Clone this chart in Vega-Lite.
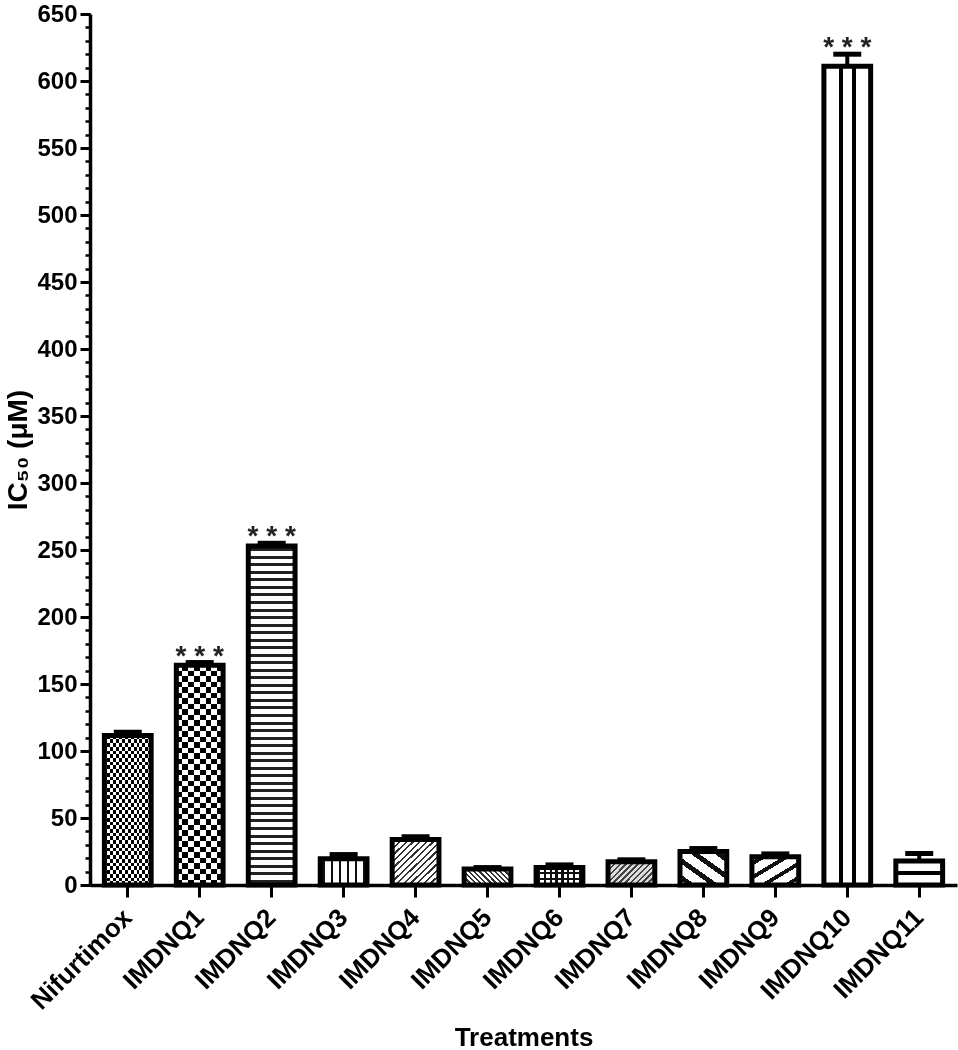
{
"$schema":"https://vega.github.io/schema/vega-lite/v6.json",
"width":867,"height":871,
"autosize":{"type":"none"},
"padding":{"left":90,"top":14,"right":1,"bottom":165},
"background":"white",
"config":{"view":{"stroke":null},"font":"Liberation Sans","axis":{"labelFont":"Liberation Sans","titleFont":"Liberation Sans"}},
"data":{"values":[
{"treatment":"Nifurtimox","value":111.5,"upper":114,"star":""},
{"treatment":"IMDNQ1","value":164,"upper":166,"star":"* * *"},
{"treatment":"IMDNQ2","value":253,"upper":255,"star":"* * *"},
{"treatment":"IMDNQ3","value":19.5,"upper":22.7,"star":""},
{"treatment":"IMDNQ4","value":34,"upper":36,"star":""},
{"treatment":"IMDNQ5","value":12,"upper":13,"star":""},
{"treatment":"IMDNQ6","value":13,"upper":15,"star":""},
{"treatment":"IMDNQ7","value":17.3,"upper":18.8,"star":""},
{"treatment":"IMDNQ8","value":25,"upper":27.2,"star":""},
{"treatment":"IMDNQ9","value":21,"upper":23.2,"star":""},
{"treatment":"IMDNQ10","value":611,"upper":620,"star":"* * *"},
{"treatment":"IMDNQ11","value":18,"upper":23.5,"star":""}
]},
"encoding":{"x":{"field":"treatment","type":"nominal",
  "scale":{"domain":["Nifurtimox","IMDNQ1","IMDNQ2","IMDNQ3","IMDNQ4","IMDNQ5","IMDNQ6","IMDNQ7","IMDNQ8","IMDNQ9","IMDNQ10","IMDNQ11"],"paddingInner":0.35,"paddingOuter":0.2},
  "axis":{"title":"Treatments","titleFontSize":26,"titleFontWeight":"bold","titleColor":"black","titleY":152,"titleBaseline":"middle",
    "labelAngle":-45,"labelAlign":"right","labelBaseline":"middle","labelFontSize":26,"labelFontWeight":"bold","labelColor":"black","labelPadding":16,"labelOverlap":false,"labelLimit":0,
    "tickSize":12,"tickWidth":3,"tickColor":"black","domainColor":"black","domainWidth":3.5,"grid":false}},
  "y":{"field":"value","type":"quantitative","scale":{"domain":[0,650],"nice":false},"axis":null}},
"layer":[
  {"transform":[{"filter":"datum.treatment==='Nifurtimox' || datum.treatment==='IMDNQ1'"}],
   "mark":{"type":"bar","fill":{"gradient":"linear","x1":0,"y1":0,"x2":0,"y2":1,"stops":[{"offset":0,"color":"#000"},{"offset":0.025,"color":"#000"},{"offset":0.025,"color":"#fff"},{"offset":0.05,"color":"#fff"},{"offset":0.05,"color":"#000"},{"offset":0.075,"color":"#000"},{"offset":0.075,"color":"#fff"},{"offset":0.1,"color":"#fff"},{"offset":0.1,"color":"#000"},{"offset":0.125,"color":"#000"},{"offset":0.125,"color":"#fff"},{"offset":0.15,"color":"#fff"},{"offset":0.15,"color":"#000"},{"offset":0.175,"color":"#000"},{"offset":0.175,"color":"#fff"},{"offset":0.2,"color":"#fff"},{"offset":0.2,"color":"#000"},{"offset":0.225,"color":"#000"},{"offset":0.225,"color":"#fff"},{"offset":0.25,"color":"#fff"},{"offset":0.25,"color":"#000"},{"offset":0.275,"color":"#000"},{"offset":0.275,"color":"#fff"},{"offset":0.3,"color":"#fff"},{"offset":0.3,"color":"#000"},{"offset":0.325,"color":"#000"},{"offset":0.325,"color":"#fff"},{"offset":0.35,"color":"#fff"},{"offset":0.35,"color":"#000"},{"offset":0.375,"color":"#000"},{"offset":0.375,"color":"#fff"},{"offset":0.4,"color":"#fff"},{"offset":0.4,"color":"#000"},{"offset":0.425,"color":"#000"},{"offset":0.425,"color":"#fff"},{"offset":0.45,"color":"#fff"},{"offset":0.45,"color":"#000"},{"offset":0.475,"color":"#000"},{"offset":0.475,"color":"#fff"},{"offset":0.5,"color":"#fff"},{"offset":0.5,"color":"#000"},{"offset":0.525,"color":"#000"},{"offset":0.525,"color":"#fff"},{"offset":0.55,"color":"#fff"},{"offset":0.55,"color":"#000"},{"offset":0.575,"color":"#000"},{"offset":0.575,"color":"#fff"},{"offset":0.6,"color":"#fff"},{"offset":0.6,"color":"#000"},{"offset":0.625,"color":"#000"},{"offset":0.625,"color":"#fff"},{"offset":0.65,"color":"#fff"},{"offset":0.65,"color":"#000"},{"offset":0.675,"color":"#000"},{"offset":0.675,"color":"#fff"},{"offset":0.7,"color":"#fff"},{"offset":0.7,"color":"#000"},{"offset":0.725,"color":"#000"},{"offset":0.725,"color":"#fff"},{"offset":0.75,"color":"#fff"},{"offset":0.75,"color":"#000"},{"offset":0.775,"color":"#000"},{"offset":0.775,"color":"#fff"},{"offset":0.8,"color":"#fff"},{"offset":0.8,"color":"#000"},{"offset":0.825,"color":"#000"},{"offset":0.825,"color":"#fff"},{"offset":0.85,"color":"#fff"},{"offset":0.85,"color":"#000"},{"offset":0.875,"color":"#000"},{"offset":0.875,"color":"#fff"},{"offset":0.9,"color":"#fff"},{"offset":0.9,"color":"#000"},{"offset":0.925,"color":"#000"},{"offset":0.925,"color":"#fff"},{"offset":0.95,"color":"#fff"},{"offset":0.95,"color":"#000"},{"offset":0.975,"color":"#000"},{"offset":0.975,"color":"#fff"},{"offset":1,"color":"#fff"}]}}},
  {"transform":[{"filter":"datum.treatment==='Nifurtimox'"}],
   "mark":{"type":"bar","blend":"difference","fill":{"gradient":"linear","x1":0,"y1":0,"x2":1,"y2":0,"stops":[{"offset":0,"color":"#fff"},{"offset":0.0625,"color":"#fff"},{"offset":0.0625,"color":"rgba(255,255,255,0)"},{"offset":0.125,"color":"rgba(255,255,255,0)"},{"offset":0.125,"color":"#fff"},{"offset":0.1875,"color":"#fff"},{"offset":0.1875,"color":"rgba(255,255,255,0)"},{"offset":0.25,"color":"rgba(255,255,255,0)"},{"offset":0.25,"color":"#fff"},{"offset":0.3125,"color":"#fff"},{"offset":0.3125,"color":"rgba(255,255,255,0)"},{"offset":0.375,"color":"rgba(255,255,255,0)"},{"offset":0.375,"color":"#fff"},{"offset":0.4375,"color":"#fff"},{"offset":0.4375,"color":"rgba(255,255,255,0)"},{"offset":0.5,"color":"rgba(255,255,255,0)"},{"offset":0.5,"color":"#fff"},{"offset":0.5625,"color":"#fff"},{"offset":0.5625,"color":"rgba(255,255,255,0)"},{"offset":0.625,"color":"rgba(255,255,255,0)"},{"offset":0.625,"color":"#fff"},{"offset":0.6875,"color":"#fff"},{"offset":0.6875,"color":"rgba(255,255,255,0)"},{"offset":0.75,"color":"rgba(255,255,255,0)"},{"offset":0.75,"color":"#fff"},{"offset":0.8125,"color":"#fff"},{"offset":0.8125,"color":"rgba(255,255,255,0)"},{"offset":0.875,"color":"rgba(255,255,255,0)"},{"offset":0.875,"color":"#fff"},{"offset":0.9375,"color":"#fff"},{"offset":0.9375,"color":"rgba(255,255,255,0)"},{"offset":1,"color":"rgba(255,255,255,0)"}]}}},
  {"transform":[{"filter":"datum.treatment==='IMDNQ1'"}],
   "mark":{"type":"bar","blend":"difference","fill":{"gradient":"linear","x1":0,"y1":0,"x2":1,"y2":0,"stops":[{"offset":0,"color":"#fff"},{"offset":0.125,"color":"#fff"},{"offset":0.125,"color":"rgba(255,255,255,0)"},{"offset":0.25,"color":"rgba(255,255,255,0)"},{"offset":0.25,"color":"#fff"},{"offset":0.375,"color":"#fff"},{"offset":0.375,"color":"rgba(255,255,255,0)"},{"offset":0.5,"color":"rgba(255,255,255,0)"},{"offset":0.5,"color":"#fff"},{"offset":0.625,"color":"#fff"},{"offset":0.625,"color":"rgba(255,255,255,0)"},{"offset":0.75,"color":"rgba(255,255,255,0)"},{"offset":0.75,"color":"#fff"},{"offset":0.875,"color":"#fff"},{"offset":0.875,"color":"rgba(255,255,255,0)"},{"offset":1,"color":"rgba(255,255,255,0)"}]}}},
  {"transform":[{"filter":"datum.treatment==='IMDNQ2'"}],
   "mark":{"type":"bar","fill":{"gradient":"linear","x1":0,"y1":0,"x2":0,"y2":1,"stops":[
{"offset":0.0067,"color":"#fff"},{"offset":0.0067,"color":"#222"},{"offset":0.0155,"color":"#222"},{"offset":0.0155,"color":"#fff"},
{"offset":0.0289,"color":"#fff"},{"offset":0.0289,"color":"#222"},{"offset":0.0377,"color":"#222"},{"offset":0.0377,"color":"#fff"},
{"offset":0.0512,"color":"#fff"},{"offset":0.0512,"color":"#222"},{"offset":0.06,"color":"#222"},{"offset":0.06,"color":"#fff"},
{"offset":0.0734,"color":"#fff"},{"offset":0.0734,"color":"#222"},{"offset":0.0822,"color":"#222"},{"offset":0.0822,"color":"#fff"},
{"offset":0.0956,"color":"#fff"},{"offset":0.0956,"color":"#222"},{"offset":0.1044,"color":"#222"},{"offset":0.1044,"color":"#fff"},
{"offset":0.1178,"color":"#fff"},{"offset":0.1178,"color":"#222"},{"offset":0.1266,"color":"#222"},{"offset":0.1266,"color":"#fff"},
{"offset":0.14,"color":"#fff"},{"offset":0.14,"color":"#222"},{"offset":0.1488,"color":"#222"},{"offset":0.1488,"color":"#fff"},
{"offset":0.1623,"color":"#fff"},{"offset":0.1623,"color":"#222"},{"offset":0.1711,"color":"#222"},{"offset":0.1711,"color":"#fff"},
{"offset":0.1845,"color":"#fff"},{"offset":0.1845,"color":"#222"},{"offset":0.1933,"color":"#222"},{"offset":0.1933,"color":"#fff"},
{"offset":0.2067,"color":"#fff"},{"offset":0.2067,"color":"#222"},{"offset":0.2155,"color":"#222"},{"offset":0.2155,"color":"#fff"},
{"offset":0.2289,"color":"#fff"},{"offset":0.2289,"color":"#222"},{"offset":0.2377,"color":"#222"},{"offset":0.2377,"color":"#fff"},
{"offset":0.2512,"color":"#fff"},{"offset":0.2512,"color":"#222"},{"offset":0.26,"color":"#222"},{"offset":0.26,"color":"#fff"},
{"offset":0.2734,"color":"#fff"},{"offset":0.2734,"color":"#222"},{"offset":0.2822,"color":"#222"},{"offset":0.2822,"color":"#fff"},
{"offset":0.2956,"color":"#fff"},{"offset":0.2956,"color":"#222"},{"offset":0.3044,"color":"#222"},{"offset":0.3044,"color":"#fff"},
{"offset":0.3178,"color":"#fff"},{"offset":0.3178,"color":"#222"},{"offset":0.3266,"color":"#222"},{"offset":0.3266,"color":"#fff"},
{"offset":0.34,"color":"#fff"},{"offset":0.34,"color":"#222"},{"offset":0.3488,"color":"#222"},{"offset":0.3488,"color":"#fff"},
{"offset":0.3623,"color":"#fff"},{"offset":0.3623,"color":"#222"},{"offset":0.3711,"color":"#222"},{"offset":0.3711,"color":"#fff"},
{"offset":0.3845,"color":"#fff"},{"offset":0.3845,"color":"#222"},{"offset":0.3933,"color":"#222"},{"offset":0.3933,"color":"#fff"},
{"offset":0.4067,"color":"#fff"},{"offset":0.4067,"color":"#222"},{"offset":0.4155,"color":"#222"},{"offset":0.4155,"color":"#fff"},
{"offset":0.4289,"color":"#fff"},{"offset":0.4289,"color":"#222"},{"offset":0.4377,"color":"#222"},{"offset":0.4377,"color":"#fff"},
{"offset":0.4512,"color":"#fff"},{"offset":0.4512,"color":"#222"},{"offset":0.46,"color":"#222"},{"offset":0.46,"color":"#fff"},
{"offset":0.4734,"color":"#fff"},{"offset":0.4734,"color":"#222"},{"offset":0.4822,"color":"#222"},{"offset":0.4822,"color":"#fff"},
{"offset":0.4956,"color":"#fff"},{"offset":0.4956,"color":"#222"},{"offset":0.5044,"color":"#222"},{"offset":0.5044,"color":"#fff"},
{"offset":0.5178,"color":"#fff"},{"offset":0.5178,"color":"#222"},{"offset":0.5266,"color":"#222"},{"offset":0.5266,"color":"#fff"},
{"offset":0.54,"color":"#fff"},{"offset":0.54,"color":"#222"},{"offset":0.5488,"color":"#222"},{"offset":0.5488,"color":"#fff"},
{"offset":0.5623,"color":"#fff"},{"offset":0.5623,"color":"#222"},{"offset":0.5711,"color":"#222"},{"offset":0.5711,"color":"#fff"},
{"offset":0.5845,"color":"#fff"},{"offset":0.5845,"color":"#222"},{"offset":0.5933,"color":"#222"},{"offset":0.5933,"color":"#fff"},
{"offset":0.6067,"color":"#fff"},{"offset":0.6067,"color":"#222"},{"offset":0.6155,"color":"#222"},{"offset":0.6155,"color":"#fff"},
{"offset":0.6289,"color":"#fff"},{"offset":0.6289,"color":"#222"},{"offset":0.6377,"color":"#222"},{"offset":0.6377,"color":"#fff"},
{"offset":0.6512,"color":"#fff"},{"offset":0.6512,"color":"#222"},{"offset":0.66,"color":"#222"},{"offset":0.66,"color":"#fff"},
{"offset":0.6734,"color":"#fff"},{"offset":0.6734,"color":"#222"},{"offset":0.6822,"color":"#222"},{"offset":0.6822,"color":"#fff"},
{"offset":0.6956,"color":"#fff"},{"offset":0.6956,"color":"#222"},{"offset":0.7044,"color":"#222"},{"offset":0.7044,"color":"#fff"},
{"offset":0.7178,"color":"#fff"},{"offset":0.7178,"color":"#222"},{"offset":0.7266,"color":"#222"},{"offset":0.7266,"color":"#fff"},
{"offset":0.74,"color":"#fff"},{"offset":0.74,"color":"#222"},{"offset":0.7488,"color":"#222"},{"offset":0.7488,"color":"#fff"},
{"offset":0.7623,"color":"#fff"},{"offset":0.7623,"color":"#222"},{"offset":0.7711,"color":"#222"},{"offset":0.7711,"color":"#fff"},
{"offset":0.7845,"color":"#fff"},{"offset":0.7845,"color":"#222"},{"offset":0.7933,"color":"#222"},{"offset":0.7933,"color":"#fff"},
{"offset":0.8067,"color":"#fff"},{"offset":0.8067,"color":"#222"},{"offset":0.8155,"color":"#222"},{"offset":0.8155,"color":"#fff"},
{"offset":0.8289,"color":"#fff"},{"offset":0.8289,"color":"#222"},{"offset":0.8377,"color":"#222"},{"offset":0.8377,"color":"#fff"},
{"offset":0.8512,"color":"#fff"},{"offset":0.8512,"color":"#222"},{"offset":0.86,"color":"#222"},{"offset":0.86,"color":"#fff"},
{"offset":0.8734,"color":"#fff"},{"offset":0.8734,"color":"#222"},{"offset":0.8822,"color":"#222"},{"offset":0.8822,"color":"#fff"},
{"offset":0.8956,"color":"#fff"},{"offset":0.8956,"color":"#222"},{"offset":0.9044,"color":"#222"},{"offset":0.9044,"color":"#fff"},
{"offset":0.9178,"color":"#fff"},{"offset":0.9178,"color":"#222"},{"offset":0.9266,"color":"#222"},{"offset":0.9266,"color":"#fff"},
{"offset":0.94,"color":"#fff"},{"offset":0.94,"color":"#222"},{"offset":0.9488,"color":"#222"},{"offset":0.9488,"color":"#fff"},
{"offset":0.9623,"color":"#fff"},{"offset":0.9623,"color":"#222"},{"offset":0.9711,"color":"#222"},{"offset":0.9711,"color":"#fff"},
{"offset":0.9845,"color":"#fff"},{"offset":0.9845,"color":"#222"},{"offset":0.9933,"color":"#222"},{"offset":0.9933,"color":"#fff"}]}}},
  {"transform":[{"filter":"datum.treatment==='IMDNQ3'"}],
   "mark":{"type":"bar","fill":{"gradient":"linear","x1":0,"y1":0,"x2":1,"y2":0,"stops":[
{"offset":0.048,"color":"#fff"},{"offset":0.048,"color":"#111"},{"offset":0.092,"color":"#111"},{"offset":0.092,"color":"#fff"},
{"offset":0.223,"color":"#fff"},{"offset":0.223,"color":"#111"},{"offset":0.267,"color":"#111"},{"offset":0.267,"color":"#fff"},
{"offset":0.398,"color":"#fff"},{"offset":0.398,"color":"#111"},{"offset":0.442,"color":"#111"},{"offset":0.442,"color":"#fff"},
{"offset":0.573,"color":"#fff"},{"offset":0.573,"color":"#111"},{"offset":0.617,"color":"#111"},{"offset":0.617,"color":"#fff"},
{"offset":0.748,"color":"#fff"},{"offset":0.748,"color":"#111"},{"offset":0.792,"color":"#111"},{"offset":0.792,"color":"#fff"},
{"offset":0.923,"color":"#fff"},{"offset":0.923,"color":"#111"},{"offset":0.967,"color":"#111"},{"offset":0.967,"color":"#fff"}]}}},
  {"transform":[{"filter":"datum.treatment==='IMDNQ4'"}],
   "mark":{"type":"bar","fill":{"gradient":"linear","x1":0,"y1":0,"x2":1,"y2":1,"stops":[
{"offset":0.0237,"color":"#fff"},{"offset":0.0237,"color":"#333"},{"offset":0.0477,"color":"#333"},{"offset":0.0477,"color":"#fff"},
{"offset":0.0951,"color":"#fff"},{"offset":0.0951,"color":"#333"},{"offset":0.1191,"color":"#333"},{"offset":0.1191,"color":"#fff"},
{"offset":0.1666,"color":"#fff"},{"offset":0.1666,"color":"#333"},{"offset":0.1906,"color":"#333"},{"offset":0.1906,"color":"#fff"},
{"offset":0.238,"color":"#fff"},{"offset":0.238,"color":"#333"},{"offset":0.262,"color":"#333"},{"offset":0.262,"color":"#fff"},
{"offset":0.3094,"color":"#fff"},{"offset":0.3094,"color":"#333"},{"offset":0.3334,"color":"#333"},{"offset":0.3334,"color":"#fff"},
{"offset":0.3809,"color":"#fff"},{"offset":0.3809,"color":"#333"},{"offset":0.4049,"color":"#333"},{"offset":0.4049,"color":"#fff"},
{"offset":0.4523,"color":"#fff"},{"offset":0.4523,"color":"#333"},{"offset":0.4763,"color":"#333"},{"offset":0.4763,"color":"#fff"},
{"offset":0.5237,"color":"#fff"},{"offset":0.5237,"color":"#333"},{"offset":0.5477,"color":"#333"},{"offset":0.5477,"color":"#fff"},
{"offset":0.5951,"color":"#fff"},{"offset":0.5951,"color":"#333"},{"offset":0.6191,"color":"#333"},{"offset":0.6191,"color":"#fff"},
{"offset":0.6666,"color":"#fff"},{"offset":0.6666,"color":"#333"},{"offset":0.6906,"color":"#333"},{"offset":0.6906,"color":"#fff"},
{"offset":0.738,"color":"#fff"},{"offset":0.738,"color":"#333"},{"offset":0.762,"color":"#333"},{"offset":0.762,"color":"#fff"},
{"offset":0.8094,"color":"#fff"},{"offset":0.8094,"color":"#333"},{"offset":0.8334,"color":"#333"},{"offset":0.8334,"color":"#fff"},
{"offset":0.8809,"color":"#fff"},{"offset":0.8809,"color":"#333"},{"offset":0.9049,"color":"#333"},{"offset":0.9049,"color":"#fff"},
{"offset":0.9523,"color":"#fff"},{"offset":0.9523,"color":"#333"},{"offset":0.9763,"color":"#333"},{"offset":0.9763,"color":"#fff"}]}}},
  {"transform":[{"filter":"datum.treatment==='IMDNQ5'"}],
   "mark":{"type":"bar","fill":{"gradient":"linear","x1":0,"y1":1,"x2":1.2,"y2":0.59,"stops":[
{"offset":0.0237,"color":"#fff"},{"offset":0.0237,"color":"#333"},{"offset":0.0597,"color":"#333"},{"offset":0.0597,"color":"#fff"},
{"offset":0.107,"color":"#fff"},{"offset":0.107,"color":"#333"},{"offset":0.143,"color":"#333"},{"offset":0.143,"color":"#fff"},
{"offset":0.1903,"color":"#fff"},{"offset":0.1903,"color":"#333"},{"offset":0.2263,"color":"#333"},{"offset":0.2263,"color":"#fff"},
{"offset":0.2737,"color":"#fff"},{"offset":0.2737,"color":"#333"},{"offset":0.3097,"color":"#333"},{"offset":0.3097,"color":"#fff"},
{"offset":0.357,"color":"#fff"},{"offset":0.357,"color":"#333"},{"offset":0.393,"color":"#333"},{"offset":0.393,"color":"#fff"},
{"offset":0.4403,"color":"#fff"},{"offset":0.4403,"color":"#333"},{"offset":0.4763,"color":"#333"},{"offset":0.4763,"color":"#fff"},
{"offset":0.5237,"color":"#fff"},{"offset":0.5237,"color":"#333"},{"offset":0.5597,"color":"#333"},{"offset":0.5597,"color":"#fff"},
{"offset":0.607,"color":"#fff"},{"offset":0.607,"color":"#333"},{"offset":0.643,"color":"#333"},{"offset":0.643,"color":"#fff"},
{"offset":0.6903,"color":"#fff"},{"offset":0.6903,"color":"#333"},{"offset":0.7263,"color":"#333"},{"offset":0.7263,"color":"#fff"},
{"offset":0.7737,"color":"#fff"},{"offset":0.7737,"color":"#333"},{"offset":0.8097,"color":"#333"},{"offset":0.8097,"color":"#fff"},
{"offset":0.857,"color":"#fff"},{"offset":0.857,"color":"#333"},{"offset":0.893,"color":"#333"},{"offset":0.893,"color":"#fff"},
{"offset":0.9403,"color":"#fff"},{"offset":0.9403,"color":"#333"},{"offset":0.9763,"color":"#333"},{"offset":0.9763,"color":"#fff"}]}}},
  {"transform":[{"filter":"datum.treatment==='IMDNQ6'"}],
   "mark":{"type":"bar","fill":{"gradient":"linear","x1":0,"y1":0,"x2":0,"y2":1,"stops":[
{"offset":0.27,"color":"#fff"},{"offset":0.27,"color":"#111"},{"offset":0.39,"color":"#111"},{"offset":0.39,"color":"#fff"},
{"offset":0.61,"color":"#fff"},{"offset":0.61,"color":"#111"},{"offset":0.73,"color":"#111"},{"offset":0.73,"color":"#fff"}]}}},
  {"transform":[{"filter":"datum.treatment==='IMDNQ6'"}],
   "mark":{"type":"bar","fill":{"gradient":"linear","x1":0,"y1":0,"x2":1,"y2":0,"stops":[
{"offset":0.0375,"color":"rgba(0,0,0,0)"},{"offset":0.0375,"color":"#111"},{"offset":0.0875,"color":"#111"},{"offset":0.0875,"color":"rgba(0,0,0,0)"},
{"offset":0.1625,"color":"rgba(0,0,0,0)"},{"offset":0.1625,"color":"#111"},{"offset":0.2125,"color":"#111"},{"offset":0.2125,"color":"rgba(0,0,0,0)"},
{"offset":0.2875,"color":"rgba(0,0,0,0)"},{"offset":0.2875,"color":"#111"},{"offset":0.3375,"color":"#111"},{"offset":0.3375,"color":"rgba(0,0,0,0)"},
{"offset":0.4125,"color":"rgba(0,0,0,0)"},{"offset":0.4125,"color":"#111"},{"offset":0.4625,"color":"#111"},{"offset":0.4625,"color":"rgba(0,0,0,0)"},
{"offset":0.5375,"color":"rgba(0,0,0,0)"},{"offset":0.5375,"color":"#111"},{"offset":0.5875,"color":"#111"},{"offset":0.5875,"color":"rgba(0,0,0,0)"},
{"offset":0.6625,"color":"rgba(0,0,0,0)"},{"offset":0.6625,"color":"#111"},{"offset":0.7125,"color":"#111"},{"offset":0.7125,"color":"rgba(0,0,0,0)"},
{"offset":0.7875,"color":"rgba(0,0,0,0)"},{"offset":0.7875,"color":"#111"},{"offset":0.8375,"color":"#111"},{"offset":0.8375,"color":"rgba(0,0,0,0)"},
{"offset":0.9125,"color":"rgba(0,0,0,0)"},{"offset":0.9125,"color":"#111"},{"offset":0.9625,"color":"#111"},{"offset":0.9625,"color":"rgba(0,0,0,0)"}]}}},
  {"transform":[{"filter":"datum.treatment==='IMDNQ7'"}],
   "mark":{"type":"bar","fill":{"gradient":"linear","x1":0,"y1":0,"x2":1.2,"y2":0.59,"stops":[
{"offset":0,"color":"#ddd"},
{"offset":0.0237,"color":"#ddd"},{"offset":0.0237,"color":"#444"},{"offset":0.0597,"color":"#444"},{"offset":0.0597,"color":"#ddd"},
{"offset":0.107,"color":"#ddd"},{"offset":0.107,"color":"#444"},{"offset":0.143,"color":"#444"},{"offset":0.143,"color":"#ddd"},
{"offset":0.1903,"color":"#ddd"},{"offset":0.1903,"color":"#444"},{"offset":0.2263,"color":"#444"},{"offset":0.2263,"color":"#ddd"},
{"offset":0.2737,"color":"#ddd"},{"offset":0.2737,"color":"#444"},{"offset":0.3097,"color":"#444"},{"offset":0.3097,"color":"#ddd"},
{"offset":0.357,"color":"#ddd"},{"offset":0.357,"color":"#444"},{"offset":0.393,"color":"#444"},{"offset":0.393,"color":"#ddd"},
{"offset":0.4403,"color":"#ddd"},{"offset":0.4403,"color":"#444"},{"offset":0.4763,"color":"#444"},{"offset":0.4763,"color":"#ddd"},
{"offset":0.5237,"color":"#ddd"},{"offset":0.5237,"color":"#444"},{"offset":0.5597,"color":"#444"},{"offset":0.5597,"color":"#ddd"},
{"offset":0.607,"color":"#ddd"},{"offset":0.607,"color":"#444"},{"offset":0.643,"color":"#444"},{"offset":0.643,"color":"#ddd"},
{"offset":0.6903,"color":"#ddd"},{"offset":0.6903,"color":"#444"},{"offset":0.7263,"color":"#444"},{"offset":0.7263,"color":"#ddd"},
{"offset":0.7737,"color":"#ddd"},{"offset":0.7737,"color":"#444"},{"offset":0.8097,"color":"#444"},{"offset":0.8097,"color":"#ddd"},
{"offset":0.857,"color":"#ddd"},{"offset":0.857,"color":"#444"},{"offset":0.893,"color":"#444"},{"offset":0.893,"color":"#ddd"},
{"offset":0.9403,"color":"#ddd"},{"offset":0.9403,"color":"#444"},{"offset":0.9763,"color":"#444"},{"offset":0.9763,"color":"#ddd"},
{"offset":1,"color":"#ddd"}]}}},
  {"transform":[{"filter":"datum.treatment==='IMDNQ8'"}],
   "mark":{"type":"bar","fill":{"gradient":"linear","x1":0,"y1":1,"x2":1,"y2":0,"stops":[
{"offset":0.075,"color":"#fff"},{"offset":0.075,"color":"#111"},{"offset":0.165,"color":"#111"},{"offset":0.165,"color":"#fff"},
{"offset":0.33,"color":"#fff"},{"offset":0.33,"color":"#111"},{"offset":0.42,"color":"#111"},{"offset":0.42,"color":"#fff"},
{"offset":0.58,"color":"#fff"},{"offset":0.58,"color":"#111"},{"offset":0.67,"color":"#111"},{"offset":0.67,"color":"#fff"},
{"offset":0.835,"color":"#fff"},{"offset":0.835,"color":"#111"},{"offset":0.925,"color":"#111"},{"offset":0.925,"color":"#fff"}]}}},
  {"transform":[{"filter":"datum.treatment==='IMDNQ9'"}],
   "mark":{"type":"bar","fill":{"gradient":"linear","x1":0,"y1":0,"x2":1,"y2":1,"stops":[
{"offset":0.08,"color":"#fff"},{"offset":0.08,"color":"#111"},{"offset":0.16,"color":"#111"},{"offset":0.16,"color":"#fff"},
{"offset":0.33,"color":"#fff"},{"offset":0.33,"color":"#111"},{"offset":0.41,"color":"#111"},{"offset":0.41,"color":"#fff"},
{"offset":0.58,"color":"#fff"},{"offset":0.58,"color":"#111"},{"offset":0.66,"color":"#111"},{"offset":0.66,"color":"#fff"},
{"offset":0.83,"color":"#fff"},{"offset":0.83,"color":"#111"},{"offset":0.91,"color":"#111"},{"offset":0.91,"color":"#fff"}]}}},
  {"transform":[{"filter":"datum.treatment==='IMDNQ10'"}],
   "mark":{"type":"bar","fill":{"gradient":"linear","x1":0,"y1":0,"x2":1,"y2":0,"stops":[
{"offset":0.315,"color":"#fff"},{"offset":0.315,"color":"#000"},{"offset":0.405,"color":"#000"},{"offset":0.405,"color":"#fff"},
{"offset":0.605,"color":"#fff"},{"offset":0.605,"color":"#000"},{"offset":0.695,"color":"#000"},{"offset":0.695,"color":"#fff"}]}}},
  {"transform":[{"filter":"datum.treatment==='IMDNQ11'"}],
   "mark":{"type":"bar","fill":{"gradient":"linear","x1":0,"y1":0,"x2":0,"y2":1,"stops":[
{"offset":0.42,"color":"#fff"},{"offset":0.42,"color":"#000"},{"offset":0.58,"color":"#000"},{"offset":0.58,"color":"#fff"}]}}},
  {"mark":{"type":"bar","fillOpacity":0,"stroke":"black","strokeWidth":5},
   "encoding":{"y":{"field":"value","type":"quantitative","scale":{"domain":[0,650],"nice":false},
    "axis":{"orient":"left","values":[0,50,100,150,200,250,300,350,400,450,500,550,600,650],"title":"IC₅₀ (μM)","titleFontSize":28,"titleFontWeight":"bold","titleColor":"black","titleX":-72,"titleBaseline":"middle",
    "labelFontSize":24,"labelFontWeight":"bold","labelColor":"black","labelPadding":3,"tickSize":10,"tickWidth":3,"tickColor":"black","domainColor":"black","domainWidth":3.5,"grid":false}}}},
  {"mark":{"type":"tick","opacity":0},
   "encoding":{"y":{"field":"value","type":"quantitative","scale":{"domain":[0,650],"nice":false},
    "axis":{"orient":"left","values":[0,10,20,30,40,50,60,70,80,90,100,110,120,130,140,150,160,170,180,190,200,210,220,230,240,250,260,270,280,290,300,310,320,330,340,350,360,370,380,390,400,410,420,430,440,450,460,470,480,490,500,510,520,530,540,550,560,570,580,590,600,610,620,630,640,650],
     "labels":false,"domain":false,"ticks":true,"tickSize":5,"tickWidth":2.5,"tickColor":"black","title":null,"grid":false}}}},
  {"mark":{"type":"rule","strokeWidth":4,"color":"black"},"encoding":{"y2":{"field":"upper"}}},
  {"mark":{"type":"tick","size":28,"thickness":5,"color":"black","opacity":1,"orient":"horizontal"},
   "encoding":{"y":{"field":"upper","type":"quantitative","scale":{"domain":[0,650],"nice":false},"axis":null}}},
  {"mark":{"type":"text","fontSize":28,"fontWeight":"bold","color":"#222","baseline":"alphabetic","align":"center","font":"Liberation Sans","dy":2},
   "encoding":{"y":{"field":"upper","type":"quantitative","scale":{"domain":[0,650],"nice":false},"axis":null},"text":{"field":"star"}}}
],
"resolve":{"axis":{"y":"independent"}}
}
